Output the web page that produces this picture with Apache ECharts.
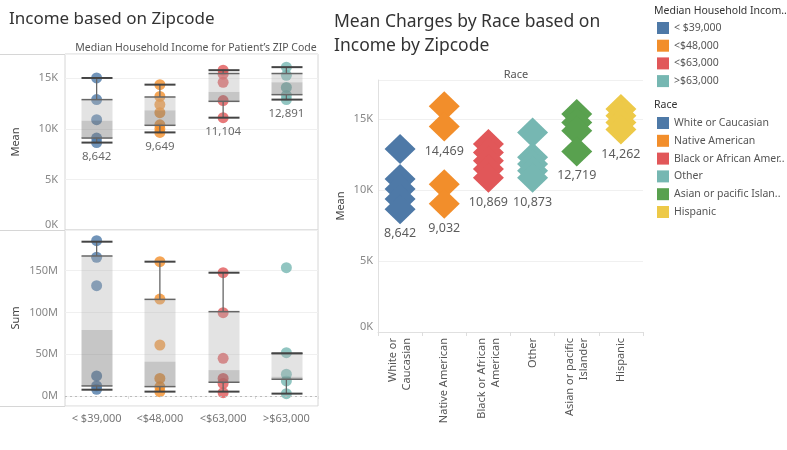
<!DOCTYPE html>
<html><head><meta charset="utf-8">
<script src="https://cdn.jsdelivr.net/npm/echarts@6/dist/echarts.min.js"></script>
<style>html,body{margin:0;padding:0;background:#fff}#c{width:787px;height:450px}</style>
</head><body><div id="c"></div>
<script>
// ---- data ----
const incomeGroups = ['< $39,000', '<$48,000', '<$63,000', '>$63,000'];
const incomeColors = ['#4e79a7', '#f28e2b', '#e15759', '#76b7b2'];
// Mean charges per income group (points)
const meanLow = [15030, 12890, 10910, 9090, 8642];
const meanMid = [14370, 13200, 12400, 11600, 10400, 10000, 9649];
const meanHigh = [15800, 15400, 14600, 12800, 11104];
const meanTop = [16100, 15300, 14100, 13300, 12891];
// box stats [min, q1, median, q3, max]
const meanBoxLow = [8642, 9090, 10810, 12890, 15030];
const meanBoxMid = [9649, 10350, 11830, 13150, 14370];
const meanBoxHigh = [11104, 12720, 13650, 15470, 15800];
const meanBoxTop = [12891, 13380, 14600, 15470, 16100];
// Sum charges (millions) per income group
const sumLow = [185.8, 166, 132, 24, 12, 8];
const sumMid = [160.7, 116, 61, 21, 11, 5.2];
const sumHigh = [147.5, 99.7, 45, 21, 15, 4];
const sumTop = [153.5, 51.8, 26, 18, 2.8];
const sumBoxLow = [7.5, 12, 79, 167.5, 184.6];
const sumBoxMid = [5.2, 11.2, 41, 115.6, 160.7];
const sumBoxHigh = [5.2, 16.4, 31, 100.9, 147.5];
const sumBoxTop = [2.8, 20, 23, 51, 51];

const races = ['White or Caucasian', 'Native American', 'Black or African American', 'Other', 'Asian or pacific Islander', 'Hispanic'];
const raceTickLabels = ['White or\nCaucasian', 'Native American', 'Black or African\nAmerican', 'Other', 'Asian or pacific\nIslander', 'Hispanic'];
const raceLegendLabels = ['White or Caucasian', 'Native American', 'Black or African Amer..', 'Other', 'Asian or pacific Islan..', 'Hispanic'];
const raceColors = ['#4e79a7', '#f28e2b', '#e15759', '#76b7b2', '#59a14f', '#edc948'];
const raceWhite = [12890, 10770, 10070, 9370, 8642];
const raceNative = [15900, 14469, 10400, 9032];
const raceBlack = [13240, 12650, 12060, 11480, 10869];
const raceOther = [14060, 12300, 11830, 11360, 10873];
const raceAsian = [15350, 14760, 14180, 12719];
const raceHispanic = [15700, 15230, 14760, 14262];
const raceLabeled = [[8642], [14469, 9032], [10869], [10873], [12719], [14262]];

const meanPts = [meanLow, meanMid, meanHigh, meanTop];
const meanBoxes = [meanBoxLow, meanBoxMid, meanBoxHigh, meanBoxTop];
const sumPts = [sumLow, sumMid, sumHigh, sumTop];
const sumBoxes = [sumBoxLow, sumBoxMid, sumBoxHigh, sumBoxTop];
const racePts = [raceWhite, raceNative, raceBlack, raceOther, raceAsian, raceHispanic];

const FONT = 'Noto Sans';
const fmt = v => Math.round(v).toLocaleString('en-US');

function renderBox(params, api) {
  const x = api.value(0);
  const p = [1, 2, 3, 4, 5].map(k => api.coord([x, api.value(k)]));
  const cx = p[0][0];
  const w = api.size([1, 0])[0] * 0.49;
  const x0 = Math.round(cx - w / 2) + 0.5, x1 = x0 + Math.round(w);
  const [pMin, pQ1, pMed, pQ3, pMax] = p.map(q => q[1]);
  const line = (xa, ya, xb, yb, c, lw) => ({type: 'line', shape: {x1: xa, y1: ya, x2: xb, y2: yb}, style: {stroke: c, lineWidth: lw}});
  return {type: 'group', children: [
    {type: 'rect', shape: {x: x0, y: pQ3, width: x1 - x0, height: pMed - pQ3}, style: {fill: 'rgba(175,175,175,0.35)'}},
    {type: 'rect', shape: {x: x0, y: pMed, width: x1 - x0, height: pQ1 - pMed}, style: {fill: 'rgba(120,120,120,0.42)'}},
    line(cx, pQ3, cx, pMax, '#666', 1.3),
    line(cx, pQ1, cx, pMin, '#666', 1.3),
    line(x0, pQ3, x1, pQ3, '#666', 1.5),
    line(x0, pQ1, x1, pQ1, '#666', 1.5),
    line(x0, pMax, x1, pMax, '#444', 2),
    line(x0, pMin, x1, pMin, '#444', 2)
  ]};
}

const series = [];
// top-left: mean
incomeGroups.forEach((g, i) => {
  series.push({name: g, type: 'scatter', xAxisIndex: 0, yAxisIndex: 0, symbolSize: 11,
    itemStyle: {color: incomeColors[i], opacity: 0.8}, z: 2,
    data: meanPts[i].map(v => [i, v])});
});
series.push({type: 'custom', name: 'meanBox', xAxisIndex: 0, yAxisIndex: 0, z: 3,
  renderItem: renderBox, data: meanBoxes.map((b, i) => [i, ...b])});
series.push({type: 'scatter', name: 'meanLabels', xAxisIndex: 0, yAxisIndex: 0, symbolSize: 0, z: 4,
  label: {show: true, position: 'bottom', distance: 8, formatter: p => fmt(p.value[1]), fontFamily: FONT, fontSize: 11.5, color: '#444'},
  data: meanBoxes.map((b, i) => [i, b[0]])});
// bottom-left: sum
incomeGroups.forEach((g, i) => {
  series.push({name: g, type: 'scatter', xAxisIndex: 1, yAxisIndex: 1, symbolSize: 11,
    itemStyle: {color: incomeColors[i], opacity: 0.8}, z: 2,
    data: sumPts[i].map(v => [i, v * 1e6])});
});
series.push({type: 'custom', name: 'sumBox', xAxisIndex: 1, yAxisIndex: 1, z: 3,
  renderItem: renderBox, data: sumBoxes.map((b, i) => [i, ...b.map(v => v * 1e6)]),
  markLine: {silent: true, symbol: 'none', label: {show: false}, lineStyle: {color: '#bbb', type: [2, 3], width: 1}, data: [{yAxis: 0}]}});
// right: race diamonds
races.forEach((r, i) => {
  series.push({name: r, type: 'scatter', xAxisIndex: 2, yAxisIndex: 2, symbol: 'diamond', symbolSize: [31, 30],
    itemStyle: {color: raceColors[i], opacity: 1}, data: racePts[i].map(v => [i, v])});
});
series.push({type: 'scatter', name: 'raceLabels', xAxisIndex: 2, yAxisIndex: 2, symbolSize: 0, z: 5,
  label: {show: true, position: 'bottom', distance: 18, formatter: p => fmt(p.value[1]), fontFamily: FONT, fontSize: 12.5, color: '#333'},
  data: raceLabeled.flatMap((arr, i) => arr.map(v => [i, v]))});

const kFmt = v => (v % 5000 === 0 ? (v / 1000) + 'K' : '');
const mFmt = v => (Math.abs(v % 5e7) < 1 ? (v / 1e6) + 'M' : '');
const axisLabelBase = {fontFamily: FONT, fontSize: 11, color: '#888'};

const option = {
  animation: false,
  textStyle: {fontFamily: FONT},
  title: [
    {text: 'Income based on Zipcode', left: 4, top: 6, textStyle: {fontFamily: FONT, fontSize: 17, fontWeight: 'normal', color: '#333'}},
    {text: 'Median Household Income for Patient\u2019s ZIP Code', left: 191, top: 38, textAlign: 'center', textStyle: {fontFamily: FONT, fontSize: 10.5, fontWeight: 'normal', color: '#555'}},
    {text: 'Mean Charges by Race based on\nIncome by Zipcode', left: 329, top: 5, textStyle: {fontFamily: FONT, fontSize: 17.5, fontWeight: 'normal', color: '#333', lineHeight: 24}},
    {text: 'Race', left: 511, top: 64, textAlign: 'center', textStyle: {fontFamily: FONT, fontSize: 11, fontWeight: 'normal', color: '#555'}},
    {text: 'Median Household Incom..', left: 649, top: 1, textStyle: {fontFamily: FONT, fontSize: 10.5, fontWeight: 'normal', color: '#333'}},
    {text: 'Race', left: 649, top: 95, textStyle: {fontFamily: FONT, fontSize: 10.5, fontWeight: 'normal', color: '#333'}}
  ],
  legend: [
    {data: incomeGroups, orient: 'vertical', left: 652, top: 17, icon: 'rect', itemWidth: 12, itemHeight: 12, itemGap: 5.7,
      itemStyle: {opacity: 1}, textStyle: {fontFamily: FONT, fontSize: 10.5, color: '#555'}, selectedMode: false},
    {data: races, orient: 'vertical', left: 652, top: 112, icon: 'rect', itemWidth: 12, itemHeight: 12, itemGap: 5.8,
      itemStyle: {opacity: 1}, formatter: n => raceLegendLabels[races.indexOf(n)],
      textStyle: {fontFamily: FONT, fontSize: 10.5, color: '#555'}, selectedMode: false}
  ],
  grid: [
    {left: 65, top: 54, width: 253, height: 176, show: true, borderColor: '#d6d6d6', borderWidth: 1},
    {left: 65, top: 230, width: 253, height: 176, show: true, borderColor: '#d6d6d6', borderWidth: 1},
    {left: 378, top: 80, width: 265, height: 252}
  ],
  xAxis: [
    {gridIndex: 0, type: 'category', data: incomeGroups, axisLine: {show: false}, axisTick: {show: false}, axisLabel: {show: false}},
    {gridIndex: 1, type: 'category', data: incomeGroups, axisLine: {show: false},
      axisTick: {show: true, length: 3, lineStyle: {color: '#ddd'}},
      axisLabel: {...axisLabelBase, color: '#777', margin: 7, interval: 0}},
    {gridIndex: 2, type: 'category', data: races, axisLine: {show: true, lineStyle: {color: '#e0e0e0'}},
      axisTick: {show: true, length: 4, lineStyle: {color: '#ddd'}},
      axisLabel: {fontFamily: FONT, fontSize: 11, color: '#555', rotate: 90, margin: 6, lineHeight: 14, interval: 0,
        formatter: (v, i) => raceTickLabels[i]}}
  ],
  yAxis: [
    {gridIndex: 0, type: 'value', min: 0, max: 17400, interval: 5000,
      name: 'Mean', nameLocation: 'middle', nameGap: 44, nameTextStyle: {fontFamily: FONT, fontSize: 11, color: '#444'},
      axisLine: {show: false}, axisTick: {show: false},
      axisLabel: {...axisLabelBase, formatter: kFmt, margin: 7, verticalAlignMinLabel: 'bottom'},
      splitLine: {lineStyle: {color: '#f0f0f0'}}},
    {gridIndex: 1, type: 'value', min: -12e6, max: 198.6e6, splitNumber: 4,
      name: 'Sum', nameLocation: 'middle', nameGap: 44, nameTextStyle: {fontFamily: FONT, fontSize: 11, color: '#444'},
      axisLine: {show: false}, axisTick: {show: false},
      axisLabel: {...axisLabelBase, formatter: mFmt, margin: 7},
      splitLine: {lineStyle: {color: '#f0f0f0'}}},
    {gridIndex: 2, type: 'value', min: 0, max: 17750, interval: 5000,
      name: 'Mean', nameLocation: 'middle', nameGap: 32, nameTextStyle: {fontFamily: FONT, fontSize: 11, color: '#444'},
      axisLine: {show: true, lineStyle: {color: '#e0e0e0'}}, axisTick: {show: false},
      axisLabel: {...axisLabelBase, formatter: kFmt, margin: 5, verticalAlignMinLabel: 'bottom'},
      splitLine: {lineStyle: {color: '#f0f0f0'}}}
  ],
  graphic: [
    {type: 'line', shape: {x1: 0, y1: 54.5, x2: 65, y2: 54.5}, style: {stroke: '#d6d6d6', lineWidth: 1}, silent: true},
    {type: 'line', shape: {x1: 0, y1: 230.5, x2: 65, y2: 230.5}, style: {stroke: '#d6d6d6', lineWidth: 1}, silent: true},
    {type: 'line', shape: {x1: 0, y1: 406.5, x2: 65, y2: 406.5}, style: {stroke: '#d6d6d6', lineWidth: 1}, silent: true}
  ],
  series: series
};
const chart = echarts.init(document.getElementById('c'), null, {renderer: 'canvas'});
chart.setOption(option);
</script></body></html>
